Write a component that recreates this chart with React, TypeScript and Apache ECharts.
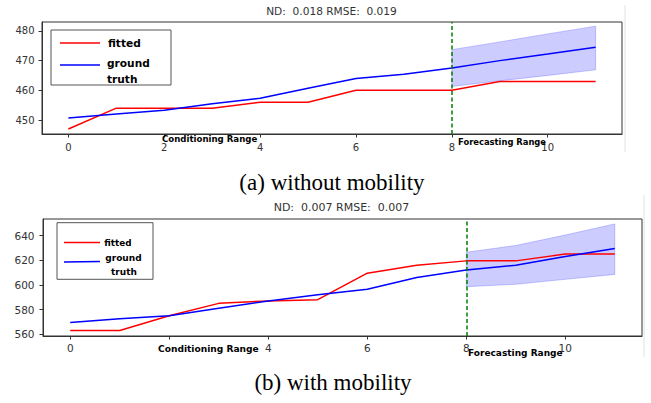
import React, { useEffect, useRef } from "react";
import * as echarts from "echarts";

const xs = [0, 1, 2, 3, 4, 5, 6, 7, 8, 9, 10, 11];
const xTicks = [0, 2, 4, 6, 8, 10];
const xLabelsBottom = [0, 4, 6, 8, 10];

const topYTicks = [450, 460, 470, 480];
const topFitted = [447, 454, 454, 454, 456, 456, 460, 460, 460, 463, 463, 463];
const topTruth = [450.7, 452, 453.3, 455.5, 457.3, 460.7, 464, 465.4, 467.5, 470, 472.2, 474.5];
const topBandX = [8, 9, 10, 11];
const topUpper = [473.7, 476.3, 479, 481.6];
const topLower = [461.3, 463.2, 465, 466.9];

const botYTicks = [560, 580, 600, 620, 640];
const botFitted = [563, 563, 575, 585, 587, 588, 609.5, 616, 619.5, 619.5, 625, 625];
const botTruth = [569.5, 572.5, 575, 581, 587, 592, 596.5, 606, 612, 616, 623, 629.5];
const botBandX = [8, 9, 10, 11];
const botUpper = [626.5, 632, 640.5, 649.5];
const botLower = [598.5, 600.5, 604.5, 608.5];

const forecastStart = 8;

const FONT = "DejaVu Sans";
const INK = "#333";
const SERIF = '"Liberation Serif", "Times New Roman", serif';

function pairs(x: number[], y: number[]) {
  return x.map((v, i) => [v, y[i]]);
}

function xAxisCfg(gridIndex: number, fontSize: number, margin: number, labels: number[]) {
  return {
    type: "value",
    gridIndex,
    min: -0.55,
    max: 11.55,
    axisLine: { show: true, onZero: false, lineStyle: { color: INK, width: 1 } },
    axisTick: { show: true, length: 3.5, lineStyle: { color: INK }, customValues: xTicks },
    axisLabel: { customValues: labels, fontSize, color: INK, margin, fontFamily: FONT },
    splitLine: { show: false },
  };
}

function yAxisCfg(gridIndex: number, min: number, max: number, ticks: number[], fontSize: number, margin: number) {
  return {
    type: "value",
    gridIndex,
    min,
    max,
    axisLine: { show: true, onZero: false, lineStyle: { color: INK, width: 1 } },
    axisTick: { show: true, length: 3.5, lineStyle: { color: INK }, customValues: ticks },
    axisLabel: { customValues: ticks, fontSize, color: INK, margin, fontFamily: FONT },
    splitLine: { show: false },
  };
}

function bandSeries(idx: number, bx: number[], up: number[], lo: number[]) {
  return {
    type: "custom",
    xAxisIndex: idx,
    yAxisIndex: idx,
    z: 1,
    silent: true,
    data: [[bx[0], up[0]]],
    renderItem: (_p: any, api: any) => {
      const pts: number[][] = [];
      bx.forEach((x, i) => pts.push(api.coord([x, up[i]])));
      for (let i = bx.length - 1; i >= 0; i--) pts.push(api.coord([bx[i], lo[i]]));
      return {
        type: "polygon",
        shape: { points: pts },
        style: { fill: "rgba(0,0,255,0.2)", stroke: "rgba(0,0,255,0.2)", lineWidth: 1 },
      };
    },
  };
}

function lineSeries(idx: number, name: string, data: number[], color: string, withMark: boolean) {
  const s: any = {
    type: "line",
    name,
    xAxisIndex: idx,
    yAxisIndex: idx,
    data: pairs(xs, data),
    showSymbol: false,
    symbol: "none",
    z: 3,
    lineStyle: { color, width: 1.5 },
  };
  if (withMark) {
    s.markLine = {
      silent: true,
      symbol: ["none", "none"],
      label: { show: false },
      lineStyle: { color: "#008000", width: 1.5, type: [4, 2.5] },
      data: [{ xAxis: forecastStart }],
    };
  }
  return s;
}

function txt(text: string, x: number, y: number, fontSize: number, opts: any = {}) {
  return {
    type: "text",
    z: 100,
    style: {
      text,
      x,
      y,
      fontSize,
      fontFamily: FONT,
      fill: "#000",
      verticalAlign: "middle",
      align: "left",
      ...opts,
    },
  };
}

export default function App() {
  const ref = useRef<HTMLDivElement>(null);
  useEffect(() => {
    document.body.style.margin = "0";
    const chart = echarts.init(ref.current as HTMLDivElement, null, {
      renderer: "svg",
      width: 651,
      height: 403,
    });
    const option: any = {
      animation: false,
      backgroundColor: "#fff",
      grid: [
        { left: 42, top: 22, width: 580, height: 112, show: true, borderColor: INK, borderWidth: 1, backgroundColor: "transparent" },
        { left: 43, top: 219, width: 599, height: 117, show: true, borderColor: INK, borderWidth: 1, backgroundColor: "transparent" },
      ],
      xAxis: [xAxisCfg(0, 10, 8, xTicks), xAxisCfg(1, 10.5, 6.5, xLabelsBottom)],
      yAxis: [
        yAxisCfg(0, 445.3, 483, topYTicks, 10, 7.5),
        yAxisCfg(1, 558.5, 653.5, botYTicks, 10.5, 8.5),
      ],
      series: [
        bandSeries(0, topBandX, topUpper, topLower),
        lineSeries(0, "fitted", topFitted, "#ff0000", false),
        lineSeries(0, "ground truth", topTruth, "#0000ff", true),
        bandSeries(1, botBandX, botUpper, botLower),
        lineSeries(1, "fitted", botFitted, "#ff0000", false),
        lineSeries(1, "ground truth", botTruth, "#0000ff", true),
      ],
      graphic: [
        // faint image borders
        { type: "line", z: 50, shape: { x1: 625, y1: 5, x2: 625, y2: 152 }, style: { stroke: "#e2e2e2", lineWidth: 1 } },
        { type: "line", z: 50, shape: { x1: 644, y1: 195, x2: 644, y2: 357 }, style: { stroke: "#e2e2e2", lineWidth: 1 } },
        // titles
        txt("ND:  0.018 RMSE:  0.019", 331.5, 11, 10.6, { align: "center", fill: INK }),
        txt("ND:  0.007 RMSE:  0.007", 341.5, 207.3, 11, { align: "center", fill: INK }),
        // top legend
        { type: "rect", z: 90, shape: { x: 51, y: 30, width: 120, height: 55 }, style: { fill: "#fff", stroke: "#555", lineWidth: 1 } },
        { type: "line", z: 100, shape: { x1: 60, y1: 43, x2: 100, y2: 43 }, style: { stroke: "#ff0000", lineWidth: 1.5 } },
        txt("fitted", 108, 42.5, 10.6, { fontWeight: "bold" }),
        { type: "line", z: 100, shape: { x1: 60, y1: 65, x2: 100, y2: 65 }, style: { stroke: "#0000ff", lineWidth: 1.5 } },
        txt("ground", 107, 62.5, 10.6, { fontWeight: "bold" }),
        txt("truth", 107, 79, 10.6, { fontWeight: "bold" }),
        // bottom legend
        { type: "rect", z: 90, shape: { x: 57, y: 222.7, width: 96, height: 56.6 }, style: { fill: "#fff", stroke: "#555", lineWidth: 1 } },
        { type: "line", z: 100, shape: { x1: 64, y1: 242.5, x2: 100, y2: 242.5 }, style: { stroke: "#ff0000", lineWidth: 1.5 } },
        txt("fitted", 104.3, 243.3, 8.8, { fontWeight: "bold" }),
        { type: "line", z: 100, shape: { x1: 64, y1: 262, x2: 100, y2: 261.5 }, style: { stroke: "#0000ff", lineWidth: 1.5 } },
        txt("ground", 105.3, 257.7, 9, { fontWeight: "bold" }),
        txt("truth", 111, 271.7, 9, { fontWeight: "bold" }),
        // range annotations
        txt("Conditioning Range", 162, 139, 8.6, { fontWeight: "bold" }),
        txt("Forecasting Range", 458, 141.7, 8.4, { fontWeight: "bold" }),
        txt("Conditioning Range", 158, 349.3, 9.1, { fontWeight: "bold" }),
        txt("Forecasting Range", 468, 352.7, 9, { fontWeight: "bold" }),
        // captions
        txt("(a) without mobility", 332, 182, 23, { align: "center", fontFamily: SERIF }),
        txt("(b) with mobility", 333, 382, 23, { align: "center", fontFamily: SERIF }),
      ],
    };
    chart.setOption(option);
    return () => chart.dispose();
  }, []);
  return <div ref={ref} style={{ width: 651, height: 403 }} />;
}
